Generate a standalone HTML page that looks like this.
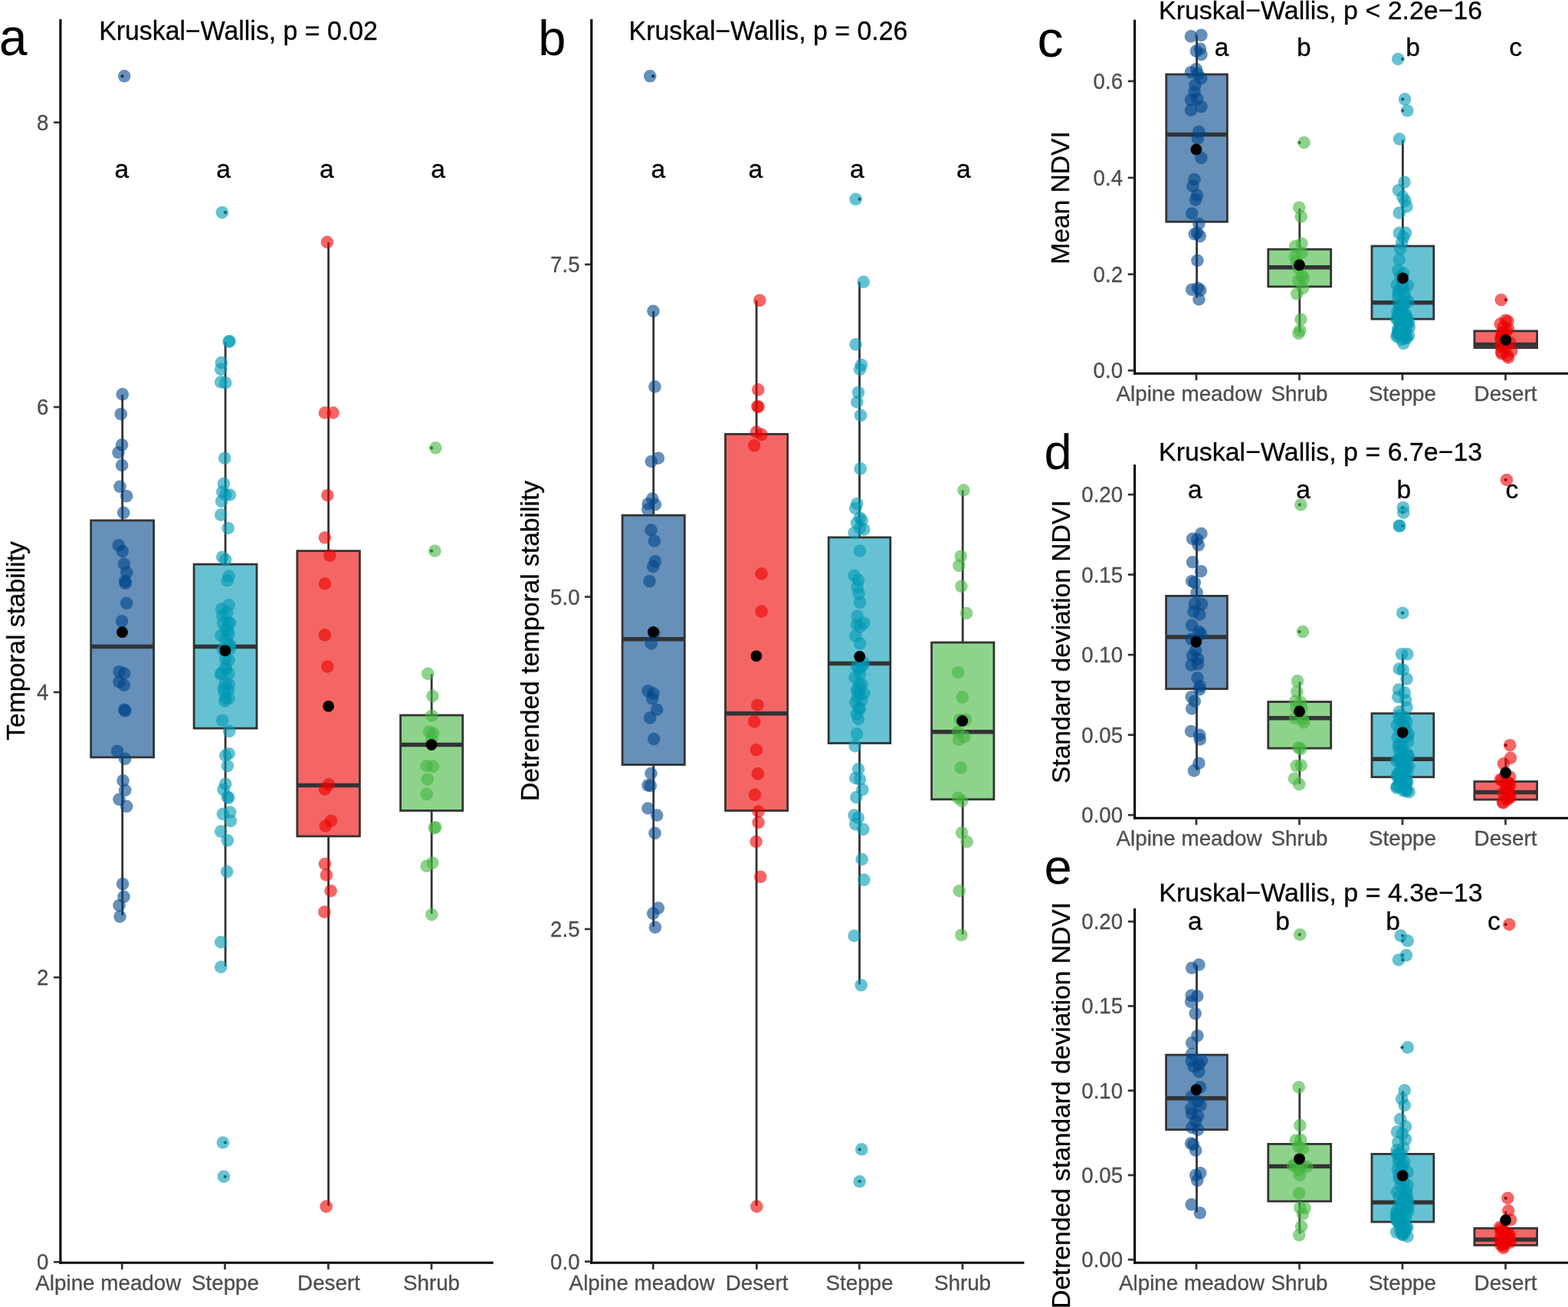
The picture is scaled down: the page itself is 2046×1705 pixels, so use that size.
<!DOCTYPE html>
<html><head><meta charset="utf-8"><title>Figure</title>
<style>
html,body{margin:0;padding:0;background:#fff;}
svg{display:block;font-family:"Liberation Sans", Arial, Helvetica, sans-serif;}
</style></head><body>
<svg width="2046" height="1705" viewBox="0 0 2046 1705">
<rect width="2046" height="1705" fill="#fff"/>
<line x1="78.9" y1="25.0" x2="78.9" y2="1648.8" stroke="#000" stroke-width="3.1" stroke-linecap="butt"/>
<line x1="77.4" y1="1647.3" x2="643.7" y2="1647.3" stroke="#000" stroke-width="3.1" stroke-linecap="butt"/>
<line x1="70.1" y1="159.7" x2="77.9" y2="159.7" stroke="#333" stroke-width="2.7" stroke-linecap="butt"/>
<text x="63.3" y="169.7" font-size="28.84" text-anchor="end" fill="#4D4D4D" stroke="#4D4D4D" stroke-width="0.3" textLength="15.4" lengthAdjust="spacingAndGlyphs">8</text>
<line x1="70.1" y1="531.0" x2="77.9" y2="531.0" stroke="#333" stroke-width="2.7" stroke-linecap="butt"/>
<text x="63.3" y="541.0" font-size="28.84" text-anchor="end" fill="#4D4D4D" stroke="#4D4D4D" stroke-width="0.3" textLength="15.4" lengthAdjust="spacingAndGlyphs">6</text>
<line x1="70.1" y1="903.0" x2="77.9" y2="903.0" stroke="#333" stroke-width="2.7" stroke-linecap="butt"/>
<text x="63.3" y="913.0" font-size="28.84" text-anchor="end" fill="#4D4D4D" stroke="#4D4D4D" stroke-width="0.3" textLength="15.4" lengthAdjust="spacingAndGlyphs">4</text>
<line x1="70.1" y1="1275.0" x2="77.9" y2="1275.0" stroke="#333" stroke-width="2.7" stroke-linecap="butt"/>
<text x="63.3" y="1285.0" font-size="28.84" text-anchor="end" fill="#4D4D4D" stroke="#4D4D4D" stroke-width="0.3" textLength="15.4" lengthAdjust="spacingAndGlyphs">2</text>
<line x1="70.1" y1="1646.3" x2="77.9" y2="1646.3" stroke="#333" stroke-width="2.7" stroke-linecap="butt"/>
<text x="63.3" y="1656.3" font-size="28.84" text-anchor="end" fill="#4D4D4D" stroke="#4D4D4D" stroke-width="0.3" textLength="15.4" lengthAdjust="spacingAndGlyphs">0</text>
<line x1="159.2" y1="1648.3" x2="159.2" y2="1656.1" stroke="#333" stroke-width="2.7" stroke-linecap="butt"/>
<line x1="293.5" y1="1648.3" x2="293.5" y2="1656.1" stroke="#333" stroke-width="2.7" stroke-linecap="butt"/>
<line x1="428.4" y1="1648.3" x2="428.4" y2="1656.1" stroke="#333" stroke-width="2.7" stroke-linecap="butt"/>
<line x1="563.0" y1="1648.3" x2="563.0" y2="1656.1" stroke="#333" stroke-width="2.7" stroke-linecap="butt"/>
<line x1="159.7" y1="515.0" x2="159.7" y2="678.9" stroke="#333" stroke-width="2.8" stroke-linecap="butt"/>
<line x1="159.7" y1="987.9" x2="159.7" y2="1194.0" stroke="#333" stroke-width="2.8" stroke-linecap="butt"/>
<rect x="118.7" y="678.9" width="81.9" height="309.0" fill="#00468B" fill-opacity="0.6" stroke="#333" stroke-width="2.8"/>
<line x1="118.7" y1="843.4" x2="200.6" y2="843.4" stroke="#333" stroke-width="5.5" stroke-linecap="butt"/>
<circle cx="159.5" cy="99.3" r="2.1" fill="#222"/>
<line x1="294.1" y1="446.3" x2="294.1" y2="736.1" stroke="#333" stroke-width="2.8" stroke-linecap="butt"/>
<line x1="294.1" y1="950.1" x2="294.1" y2="1260.8" stroke="#333" stroke-width="2.8" stroke-linecap="butt"/>
<rect x="253.1" y="736.1" width="81.9" height="214.0" fill="#0099B4" fill-opacity="0.6" stroke="#333" stroke-width="2.8"/>
<line x1="253.1" y1="843.4" x2="335.0" y2="843.4" stroke="#333" stroke-width="5.5" stroke-linecap="butt"/>
<circle cx="293.9" cy="277.2" r="2.1" fill="#222"/>
<circle cx="293.9" cy="1490.5" r="2.1" fill="#222"/>
<circle cx="293.9" cy="1535.0" r="2.1" fill="#222"/>
<line x1="428.6" y1="316.0" x2="428.6" y2="718.7" stroke="#333" stroke-width="2.8" stroke-linecap="butt"/>
<line x1="428.6" y1="1090.9" x2="428.6" y2="1572.9" stroke="#333" stroke-width="2.8" stroke-linecap="butt"/>
<rect x="387.8" y="718.7" width="81.6" height="372.2" fill="#ED0000" fill-opacity="0.6" stroke="#333" stroke-width="2.8"/>
<line x1="387.8" y1="1024.4" x2="469.4" y2="1024.4" stroke="#333" stroke-width="5.5" stroke-linecap="butt"/>
<line x1="563.2" y1="879.5" x2="563.2" y2="933.0" stroke="#333" stroke-width="2.8" stroke-linecap="butt"/>
<line x1="563.2" y1="1057.5" x2="563.2" y2="1192.2" stroke="#333" stroke-width="2.8" stroke-linecap="butt"/>
<rect x="522.6" y="933.0" width="81.2" height="124.5" fill="#42B540" fill-opacity="0.6" stroke="#333" stroke-width="2.8"/>
<line x1="522.6" y1="971.5" x2="603.8" y2="971.5" stroke="#333" stroke-width="5.5" stroke-linecap="butt"/>
<circle cx="563.0" cy="584.3" r="2.1" fill="#222"/>
<circle cx="563.0" cy="718.7" r="2.1" fill="#222"/>
<g fill="#00468B" fill-opacity="0.6">
<circle cx="162.2" cy="99.3" r="8.3"/>
<circle cx="159.8" cy="514.4" r="8.3"/>
<circle cx="157.8" cy="540.2" r="8.3"/>
<circle cx="159.1" cy="580.3" r="8.3"/>
<circle cx="154.5" cy="590.3" r="8.3"/>
<circle cx="159.1" cy="607.0" r="8.3"/>
<circle cx="156.5" cy="634.8" r="8.3"/>
<circle cx="165.2" cy="647.2" r="8.3"/>
<circle cx="161.2" cy="668.9" r="8.3"/>
<circle cx="154.8" cy="711.4" r="8.3"/>
<circle cx="159.8" cy="719.1" r="8.3"/>
<circle cx="161.8" cy="735.8" r="8.3"/>
<circle cx="165.2" cy="746.8" r="8.3"/>
<circle cx="163.2" cy="758.2" r="8.3"/>
<circle cx="163.8" cy="760.8" r="8.3"/>
<circle cx="165.2" cy="786.9" r="8.3"/>
<circle cx="159.1" cy="810.3" r="8.3"/>
<circle cx="155.5" cy="876.2" r="8.3"/>
<circle cx="162.2" cy="878.5" r="8.3"/>
<circle cx="155.5" cy="889.6" r="8.3"/>
<circle cx="161.8" cy="893.9" r="8.3"/>
<circle cx="162.2" cy="925.7" r="8.3"/>
<circle cx="163.5" cy="927.3" r="8.3"/>
<circle cx="153.1" cy="979.8" r="8.3"/>
<circle cx="163.2" cy="989.9" r="8.3"/>
<circle cx="160.5" cy="1018.4" r="8.3"/>
<circle cx="163.2" cy="1030.8" r="8.3"/>
<circle cx="155.5" cy="1042.8" r="8.3"/>
<circle cx="165.2" cy="1051.8" r="8.3"/>
<circle cx="160.1" cy="1153.1" r="8.3"/>
<circle cx="161.5" cy="1169.8" r="8.3"/>
<circle cx="155.5" cy="1181.2" r="8.3"/>
<circle cx="156.5" cy="1195.6" r="8.3"/>
</g>
<g fill="#0099B4" fill-opacity="0.6">
<circle cx="289.9" cy="277.2" r="8.3"/>
<circle cx="299.6" cy="445.0" r="8.3"/>
<circle cx="298.6" cy="445.7" r="8.3"/>
<circle cx="288.9" cy="473.1" r="8.3"/>
<circle cx="288.2" cy="481.7" r="8.3"/>
<circle cx="288.2" cy="498.4" r="8.3"/>
<circle cx="294.2" cy="499.4" r="8.3"/>
<circle cx="293.2" cy="597.7" r="8.3"/>
<circle cx="291.9" cy="631.1" r="8.3"/>
<circle cx="290.2" cy="641.5" r="8.3"/>
<circle cx="294.2" cy="645.5" r="8.3"/>
<circle cx="299.9" cy="645.5" r="8.3"/>
<circle cx="289.2" cy="653.9" r="8.3"/>
<circle cx="288.2" cy="671.6" r="8.3"/>
<circle cx="297.6" cy="689.0" r="8.3"/>
<circle cx="290.2" cy="726.7" r="8.3"/>
<circle cx="294.2" cy="730.1" r="8.3"/>
<circle cx="298.6" cy="751.5" r="8.3"/>
<circle cx="296.6" cy="757.5" r="8.3"/>
<circle cx="298.6" cy="789.3" r="8.3"/>
<circle cx="289.2" cy="794.3" r="8.3"/>
<circle cx="290.2" cy="802.6" r="8.3"/>
<circle cx="290.9" cy="812.7" r="8.3"/>
<circle cx="299.9" cy="812.7" r="8.3"/>
<circle cx="294.2" cy="821.0" r="8.3"/>
<circle cx="298.6" cy="827.7" r="8.3"/>
<circle cx="294.2" cy="834.4" r="8.3"/>
<circle cx="298.6" cy="841.1" r="8.3"/>
<circle cx="290.9" cy="847.8" r="8.3"/>
<circle cx="298.6" cy="861.1" r="8.3"/>
<circle cx="294.2" cy="869.5" r="8.3"/>
<circle cx="289.2" cy="877.9" r="8.3"/>
<circle cx="298.6" cy="878.5" r="8.3"/>
<circle cx="294.2" cy="891.2" r="8.3"/>
<circle cx="298.6" cy="892.9" r="8.3"/>
<circle cx="292.5" cy="902.9" r="8.3"/>
<circle cx="294.2" cy="911.3" r="8.3"/>
<circle cx="293.5" cy="914.6" r="8.3"/>
<circle cx="290.2" cy="939.7" r="8.3"/>
<circle cx="299.2" cy="953.8" r="8.3"/>
<circle cx="298.6" cy="983.2" r="8.3"/>
<circle cx="294.2" cy="985.5" r="8.3"/>
<circle cx="296.9" cy="999.2" r="8.3"/>
<circle cx="294.2" cy="1022.7" r="8.3"/>
<circle cx="291.5" cy="1030.1" r="8.3"/>
<circle cx="296.9" cy="1039.5" r="8.3"/>
<circle cx="298.2" cy="1040.8" r="8.3"/>
<circle cx="300.2" cy="1059.5" r="8.3"/>
<circle cx="290.9" cy="1061.9" r="8.3"/>
<circle cx="300.9" cy="1070.9" r="8.3"/>
<circle cx="288.2" cy="1084.6" r="8.3"/>
<circle cx="296.9" cy="1096.3" r="8.3"/>
<circle cx="296.2" cy="1137.1" r="8.3"/>
<circle cx="288.2" cy="1229.0" r="8.3"/>
<circle cx="288.2" cy="1261.5" r="8.3"/>
<circle cx="290.9" cy="1490.5" r="8.3"/>
<circle cx="291.9" cy="1534.9" r="8.3"/>
<circle cx="296.1" cy="799.9" r="8.3"/>
<circle cx="298.3" cy="812.7" r="8.3"/>
<circle cx="297.6" cy="823.2" r="8.3"/>
<circle cx="288.4" cy="829.0" r="8.3"/>
<circle cx="300.3" cy="841.6" r="8.3"/>
<circle cx="299.7" cy="846.5" r="8.3"/>
<circle cx="294.1" cy="858.6" r="8.3"/>
<circle cx="295.1" cy="872.8" r="8.3"/>
<circle cx="288.2" cy="879.6" r="8.3"/>
<circle cx="291.6" cy="897.8" r="8.3"/>
<circle cx="298.0" cy="900.4" r="8.3"/>
<circle cx="298.4" cy="910.8" r="8.3"/>
</g>
<g fill="#ED0000" fill-opacity="0.6">
<circle cx="426.9" cy="315.9" r="8.3"/>
<circle cx="423.9" cy="538.5" r="8.3"/>
<circle cx="434.6" cy="538.5" r="8.3"/>
<circle cx="427.3" cy="646.2" r="8.3"/>
<circle cx="423.9" cy="701.3" r="8.3"/>
<circle cx="430.3" cy="724.7" r="8.3"/>
<circle cx="423.9" cy="761.5" r="8.3"/>
<circle cx="423.9" cy="828.4" r="8.3"/>
<circle cx="427.3" cy="869.5" r="8.3"/>
<circle cx="429.0" cy="1023.4" r="8.3"/>
<circle cx="423.9" cy="1029.4" r="8.3"/>
<circle cx="432.0" cy="1070.9" r="8.3"/>
<circle cx="424.6" cy="1077.6" r="8.3"/>
<circle cx="423.9" cy="1127.0" r="8.3"/>
<circle cx="425.9" cy="1141.4" r="8.3"/>
<circle cx="431.6" cy="1162.2" r="8.3"/>
<circle cx="423.3" cy="1189.6" r="8.3"/>
<circle cx="425.7" cy="1573.9" r="8.3"/>
</g>
<g fill="#42B540" fill-opacity="0.6">
<circle cx="568.4" cy="584.3" r="8.3"/>
<circle cx="567.4" cy="718.7" r="8.3"/>
<circle cx="558.3" cy="878.9" r="8.3"/>
<circle cx="564.4" cy="908.0" r="8.3"/>
<circle cx="563.4" cy="933.7" r="8.3"/>
<circle cx="560.0" cy="954.8" r="8.3"/>
<circle cx="565.0" cy="956.4" r="8.3"/>
<circle cx="563.4" cy="964.8" r="8.3"/>
<circle cx="556.7" cy="999.2" r="8.3"/>
<circle cx="565.0" cy="999.9" r="8.3"/>
<circle cx="557.7" cy="1016.7" r="8.3"/>
<circle cx="556.7" cy="1036.1" r="8.3"/>
<circle cx="568.4" cy="1079.2" r="8.3"/>
<circle cx="566.7" cy="1080.2" r="8.3"/>
<circle cx="564.4" cy="1125.7" r="8.3"/>
<circle cx="556.7" cy="1129.7" r="8.3"/>
<circle cx="563.4" cy="1193.2" r="8.3"/>
</g>
<circle cx="159.5" cy="824.7" r="7.4" fill="#000"/>
<circle cx="293.9" cy="848.8" r="7.4" fill="#000"/>
<circle cx="428.6" cy="921.3" r="7.4" fill="#000"/>
<circle cx="563.0" cy="971.5" r="7.4" fill="#000"/>
<text x="-1.2" y="72.2" font-size="67.98" text-anchor="start" fill="#000" textLength="36.7" lengthAdjust="spacingAndGlyphs">a</text>
<text x="129.2" y="51.9" font-size="34.19" text-anchor="start" fill="#000" stroke="#000" stroke-width="0.3" textLength="363.7" lengthAdjust="spacingAndGlyphs">Kruskal−Wallis, p = 0.02</text>
<text x="158.8" y="232.2" font-size="33.60" text-anchor="middle" fill="#000" stroke="#000" stroke-width="0.3">a</text>
<text x="291.5" y="232.2" font-size="33.60" text-anchor="middle" fill="#000" stroke="#000" stroke-width="0.3">a</text>
<text x="426.3" y="232.2" font-size="33.60" text-anchor="middle" fill="#000" stroke="#000" stroke-width="0.3">a</text>
<text x="571.7" y="232.2" font-size="33.60" text-anchor="middle" fill="#000" stroke="#000" stroke-width="0.3">a</text>
<text x="32.0" y="836.0" font-size="33.60" text-anchor="middle" fill="#000" stroke="#000" stroke-width="0.3" transform="rotate(-90 32.0 836.0)">Temporal stability</text>
<text x="46.3" y="1682.5" font-size="27.80" text-anchor="start" fill="#4D4D4D" stroke="#4D4D4D" stroke-width="0.3">Alpine meadow</text>
<text x="294.0" y="1682.5" font-size="27.80" text-anchor="middle" fill="#4D4D4D" stroke="#4D4D4D" stroke-width="0.3">Steppe</text>
<text x="429.0" y="1682.5" font-size="27.80" text-anchor="middle" fill="#4D4D4D" stroke="#4D4D4D" stroke-width="0.3">Desert</text>
<text x="563.0" y="1682.5" font-size="27.80" text-anchor="middle" fill="#4D4D4D" stroke="#4D4D4D" stroke-width="0.3">Shrub</text>
<line x1="771.8" y1="25.0" x2="771.8" y2="1648.8" stroke="#000" stroke-width="3.1" stroke-linecap="butt"/>
<line x1="770.2" y1="1647.3" x2="1336.4" y2="1647.3" stroke="#000" stroke-width="3.1" stroke-linecap="butt"/>
<line x1="763.0" y1="345.0" x2="770.8" y2="345.0" stroke="#333" stroke-width="2.7" stroke-linecap="butt"/>
<text x="756.5" y="355.0" font-size="28.84" text-anchor="end" fill="#4D4D4D" stroke="#4D4D4D" stroke-width="0.3" textLength="38.4" lengthAdjust="spacingAndGlyphs">7.5</text>
<line x1="763.0" y1="778.6" x2="770.8" y2="778.6" stroke="#333" stroke-width="2.7" stroke-linecap="butt"/>
<text x="756.5" y="788.6" font-size="28.84" text-anchor="end" fill="#4D4D4D" stroke="#4D4D4D" stroke-width="0.3" textLength="38.4" lengthAdjust="spacingAndGlyphs">5.0</text>
<line x1="763.0" y1="1212.0" x2="770.8" y2="1212.0" stroke="#333" stroke-width="2.7" stroke-linecap="butt"/>
<text x="756.5" y="1222.0" font-size="28.84" text-anchor="end" fill="#4D4D4D" stroke="#4D4D4D" stroke-width="0.3" textLength="38.4" lengthAdjust="spacingAndGlyphs">2.5</text>
<line x1="763.0" y1="1645.7" x2="770.8" y2="1645.7" stroke="#333" stroke-width="2.7" stroke-linecap="butt"/>
<text x="756.5" y="1655.7" font-size="28.84" text-anchor="end" fill="#4D4D4D" stroke="#4D4D4D" stroke-width="0.3" textLength="38.4" lengthAdjust="spacingAndGlyphs">0.0</text>
<line x1="852.2" y1="1648.3" x2="852.2" y2="1656.1" stroke="#333" stroke-width="2.7" stroke-linecap="butt"/>
<line x1="987.4" y1="1648.3" x2="987.4" y2="1656.1" stroke="#333" stroke-width="2.7" stroke-linecap="butt"/>
<line x1="1121.3" y1="1648.3" x2="1121.3" y2="1656.1" stroke="#333" stroke-width="2.7" stroke-linecap="butt"/>
<line x1="1256.0" y1="1648.3" x2="1256.0" y2="1656.1" stroke="#333" stroke-width="2.7" stroke-linecap="butt"/>
<line x1="852.7" y1="405.9" x2="852.7" y2="672.2" stroke="#333" stroke-width="2.8" stroke-linecap="butt"/>
<line x1="852.7" y1="997.6" x2="852.7" y2="1209.0" stroke="#333" stroke-width="2.8" stroke-linecap="butt"/>
<rect x="812.1" y="672.2" width="81.2" height="325.4" fill="#00468B" fill-opacity="0.6" stroke="#333" stroke-width="2.8"/>
<line x1="812.1" y1="833.7" x2="893.3" y2="833.7" stroke="#333" stroke-width="5.5" stroke-linecap="butt"/>
<circle cx="852.2" cy="99.3" r="2.1" fill="#222"/>
<line x1="987.1" y1="391.8" x2="987.1" y2="566.3" stroke="#333" stroke-width="2.8" stroke-linecap="butt"/>
<line x1="987.1" y1="1057.5" x2="987.1" y2="1572.9" stroke="#333" stroke-width="2.8" stroke-linecap="butt"/>
<rect x="946.5" y="566.3" width="81.2" height="491.2" fill="#ED0000" fill-opacity="0.6" stroke="#333" stroke-width="2.8"/>
<line x1="946.5" y1="930.7" x2="1027.7" y2="930.7" stroke="#333" stroke-width="5.5" stroke-linecap="butt"/>
<line x1="1121.5" y1="367.8" x2="1121.5" y2="701.0" stroke="#333" stroke-width="2.8" stroke-linecap="butt"/>
<line x1="1121.5" y1="969.5" x2="1121.5" y2="1284.2" stroke="#333" stroke-width="2.8" stroke-linecap="butt"/>
<rect x="1081.2" y="701.0" width="80.6" height="268.5" fill="#0099B4" fill-opacity="0.6" stroke="#333" stroke-width="2.8"/>
<line x1="1081.2" y1="865.5" x2="1161.8" y2="865.5" stroke="#333" stroke-width="5.5" stroke-linecap="butt"/>
<circle cx="1121.7" cy="259.8" r="2.1" fill="#222"/>
<circle cx="1121.7" cy="1499.5" r="2.1" fill="#222"/>
<circle cx="1121.7" cy="1541.0" r="2.1" fill="#222"/>
<line x1="1256.2" y1="639.5" x2="1256.2" y2="838.1" stroke="#333" stroke-width="2.8" stroke-linecap="butt"/>
<line x1="1256.2" y1="1042.8" x2="1256.2" y2="1219.0" stroke="#333" stroke-width="2.8" stroke-linecap="butt"/>
<rect x="1215.6" y="838.1" width="81.3" height="204.7" fill="#42B540" fill-opacity="0.6" stroke="#333" stroke-width="2.8"/>
<line x1="1215.6" y1="954.8" x2="1296.9" y2="954.8" stroke="#333" stroke-width="5.5" stroke-linecap="butt"/>
<g fill="#00468B" fill-opacity="0.6">
<circle cx="848.2" cy="99.3" r="8.3"/>
<circle cx="852.5" cy="405.9" r="8.3"/>
<circle cx="854.5" cy="504.4" r="8.3"/>
<circle cx="849.8" cy="602.0" r="8.3"/>
<circle cx="858.9" cy="597.7" r="8.3"/>
<circle cx="851.2" cy="650.5" r="8.3"/>
<circle cx="845.8" cy="657.2" r="8.3"/>
<circle cx="854.9" cy="658.2" r="8.3"/>
<circle cx="845.2" cy="664.6" r="8.3"/>
<circle cx="849.5" cy="691.6" r="8.3"/>
<circle cx="853.9" cy="705.7" r="8.3"/>
<circle cx="854.9" cy="732.4" r="8.3"/>
<circle cx="852.2" cy="739.1" r="8.3"/>
<circle cx="847.5" cy="758.2" r="8.3"/>
<circle cx="849.8" cy="839.4" r="8.3"/>
<circle cx="845.5" cy="901.3" r="8.3"/>
<circle cx="852.5" cy="904.6" r="8.3"/>
<circle cx="851.2" cy="911.3" r="8.3"/>
<circle cx="857.2" cy="925.7" r="8.3"/>
<circle cx="848.2" cy="936.4" r="8.3"/>
<circle cx="853.2" cy="964.1" r="8.3"/>
<circle cx="849.5" cy="1009.0" r="8.3"/>
<circle cx="845.5" cy="1024.4" r="8.3"/>
<circle cx="848.8" cy="1025.1" r="8.3"/>
<circle cx="845.5" cy="1054.5" r="8.3"/>
<circle cx="857.2" cy="1063.5" r="8.3"/>
<circle cx="854.5" cy="1086.9" r="8.3"/>
<circle cx="858.9" cy="1184.6" r="8.3"/>
<circle cx="852.2" cy="1191.6" r="8.3"/>
<circle cx="854.9" cy="1209.6" r="8.3"/>
<circle cx="853.3" cy="826.0" r="8.3"/>
</g>
<g fill="#ED0000" fill-opacity="0.6">
<circle cx="991.3" cy="391.8" r="8.3"/>
<circle cx="989.3" cy="508.4" r="8.3"/>
<circle cx="988.3" cy="530.2" r="8.3"/>
<circle cx="989.6" cy="530.8" r="8.3"/>
<circle cx="986.9" cy="563.6" r="8.3"/>
<circle cx="993.6" cy="566.9" r="8.3"/>
<circle cx="984.2" cy="581.3" r="8.3"/>
<circle cx="993.6" cy="748.5" r="8.3"/>
<circle cx="993.6" cy="797.6" r="8.3"/>
<circle cx="988.3" cy="919.7" r="8.3"/>
<circle cx="984.2" cy="941.4" r="8.3"/>
<circle cx="986.9" cy="978.2" r="8.3"/>
<circle cx="988.9" cy="1009.4" r="8.3"/>
<circle cx="984.9" cy="1036.8" r="8.3"/>
<circle cx="989.6" cy="1058.5" r="8.3"/>
<circle cx="989.6" cy="1072.9" r="8.3"/>
<circle cx="986.6" cy="1098.0" r="8.3"/>
<circle cx="992.3" cy="1143.8" r="8.3"/>
<circle cx="987.4" cy="1573.9" r="8.3"/>
</g>
<g fill="#0099B4" fill-opacity="0.6">
<circle cx="1116.6" cy="259.8" r="8.3"/>
<circle cx="1126.7" cy="367.8" r="8.3"/>
<circle cx="1116.6" cy="449.3" r="8.3"/>
<circle cx="1124.0" cy="476.1" r="8.3"/>
<circle cx="1122.0" cy="481.7" r="8.3"/>
<circle cx="1120.0" cy="511.8" r="8.3"/>
<circle cx="1118.3" cy="524.5" r="8.3"/>
<circle cx="1123.0" cy="541.9" r="8.3"/>
<circle cx="1122.7" cy="611.4" r="8.3"/>
<circle cx="1118.3" cy="657.2" r="8.3"/>
<circle cx="1116.3" cy="663.2" r="8.3"/>
<circle cx="1122.0" cy="675.6" r="8.3"/>
<circle cx="1124.7" cy="678.9" r="8.3"/>
<circle cx="1118.0" cy="682.3" r="8.3"/>
<circle cx="1122.0" cy="689.0" r="8.3"/>
<circle cx="1127.3" cy="690.6" r="8.3"/>
<circle cx="1114.6" cy="695.0" r="8.3"/>
<circle cx="1122.0" cy="718.7" r="8.3"/>
<circle cx="1114.6" cy="750.8" r="8.3"/>
<circle cx="1120.0" cy="756.8" r="8.3"/>
<circle cx="1118.6" cy="765.9" r="8.3"/>
<circle cx="1120.7" cy="774.2" r="8.3"/>
<circle cx="1122.0" cy="785.9" r="8.3"/>
<circle cx="1118.6" cy="803.6" r="8.3"/>
<circle cx="1127.3" cy="812.7" r="8.3"/>
<circle cx="1118.0" cy="815.0" r="8.3"/>
<circle cx="1122.0" cy="817.7" r="8.3"/>
<circle cx="1116.3" cy="829.4" r="8.3"/>
<circle cx="1122.0" cy="839.4" r="8.3"/>
<circle cx="1127.3" cy="864.5" r="8.3"/>
<circle cx="1118.0" cy="869.5" r="8.3"/>
<circle cx="1122.0" cy="879.5" r="8.3"/>
<circle cx="1124.7" cy="892.9" r="8.3"/>
<circle cx="1118.0" cy="899.6" r="8.3"/>
<circle cx="1122.0" cy="904.6" r="8.3"/>
<circle cx="1127.3" cy="904.6" r="8.3"/>
<circle cx="1116.3" cy="916.3" r="8.3"/>
<circle cx="1120.7" cy="924.7" r="8.3"/>
<circle cx="1120.0" cy="938.0" r="8.3"/>
<circle cx="1118.0" cy="957.4" r="8.3"/>
<circle cx="1115.6" cy="973.1" r="8.3"/>
<circle cx="1120.0" cy="1003.3" r="8.3"/>
<circle cx="1116.3" cy="1015.0" r="8.3"/>
<circle cx="1122.0" cy="1016.7" r="8.3"/>
<circle cx="1125.3" cy="1030.1" r="8.3"/>
<circle cx="1117.3" cy="1040.1" r="8.3"/>
<circle cx="1114.6" cy="1063.5" r="8.3"/>
<circle cx="1119.7" cy="1066.9" r="8.3"/>
<circle cx="1116.3" cy="1075.2" r="8.3"/>
<circle cx="1126.3" cy="1081.9" r="8.3"/>
<circle cx="1124.7" cy="1121.0" r="8.3"/>
<circle cx="1127.3" cy="1147.8" r="8.3"/>
<circle cx="1114.6" cy="1220.7" r="8.3"/>
<circle cx="1123.7" cy="1285.2" r="8.3"/>
<circle cx="1124.3" cy="1499.4" r="8.3"/>
<circle cx="1121.7" cy="1541.3" r="8.3"/>
<circle cx="1125.0" cy="868.7" r="8.3"/>
<circle cx="1121.3" cy="872.2" r="8.3"/>
<circle cx="1115.5" cy="883.6" r="8.3"/>
<circle cx="1121.1" cy="892.5" r="8.3"/>
<circle cx="1120.0" cy="900.7" r="8.3"/>
<circle cx="1118.8" cy="909.1" r="8.3"/>
<circle cx="1124.3" cy="914.0" r="8.3"/>
<circle cx="1122.0" cy="924.3" r="8.3"/>
<circle cx="1117.8" cy="931.4" r="8.3"/>
</g>
<g fill="#42B540" fill-opacity="0.6">
<circle cx="1257.4" cy="639.5" r="8.3"/>
<circle cx="1253.7" cy="725.7" r="8.3"/>
<circle cx="1251.4" cy="737.8" r="8.3"/>
<circle cx="1254.4" cy="764.9" r="8.3"/>
<circle cx="1261.1" cy="800.0" r="8.3"/>
<circle cx="1250.0" cy="877.2" r="8.3"/>
<circle cx="1255.7" cy="909.6" r="8.3"/>
<circle cx="1252.4" cy="938.7" r="8.3"/>
<circle cx="1260.1" cy="938.7" r="8.3"/>
<circle cx="1250.0" cy="954.8" r="8.3"/>
<circle cx="1258.4" cy="961.4" r="8.3"/>
<circle cx="1251.0" cy="964.8" r="8.3"/>
<circle cx="1253.7" cy="1001.6" r="8.3"/>
<circle cx="1250.0" cy="1040.8" r="8.3"/>
<circle cx="1255.1" cy="1045.1" r="8.3"/>
<circle cx="1255.1" cy="1086.3" r="8.3"/>
<circle cx="1261.7" cy="1098.0" r="8.3"/>
<circle cx="1251.7" cy="1162.2" r="8.3"/>
<circle cx="1254.4" cy="1219.7" r="8.3"/>
</g>
<circle cx="852.5" cy="824.4" r="7.4" fill="#000"/>
<circle cx="986.9" cy="855.8" r="7.4" fill="#000"/>
<circle cx="1121.7" cy="856.5" r="7.4" fill="#000"/>
<circle cx="1255.7" cy="940.4" r="7.4" fill="#000"/>
<text x="702.3" y="71.8" font-size="65.00" text-anchor="start" fill="#000">b</text>
<text x="820.6" y="51.9" font-size="34.19" text-anchor="start" fill="#000" stroke="#000" stroke-width="0.3" textLength="363.7" lengthAdjust="spacingAndGlyphs">Kruskal−Wallis, p = 0.26</text>
<text x="858.9" y="232.2" font-size="33.60" text-anchor="middle" fill="#000" stroke="#000" stroke-width="0.3">a</text>
<text x="985.9" y="232.2" font-size="33.60" text-anchor="middle" fill="#000" stroke="#000" stroke-width="0.3">a</text>
<text x="1118.3" y="232.2" font-size="33.60" text-anchor="middle" fill="#000" stroke="#000" stroke-width="0.3">a</text>
<text x="1257.4" y="232.2" font-size="33.60" text-anchor="middle" fill="#000" stroke="#000" stroke-width="0.3">a</text>
<text x="703.0" y="836.0" font-size="33.60" text-anchor="middle" fill="#000" stroke="#000" stroke-width="0.3" transform="rotate(-90 703.0 836.0)">Detrended temporal stability</text>
<text x="742.6" y="1682.5" font-size="27.80" text-anchor="start" fill="#4D4D4D" stroke="#4D4D4D" stroke-width="0.3">Alpine meadow</text>
<text x="987.6" y="1682.5" font-size="27.80" text-anchor="middle" fill="#4D4D4D" stroke="#4D4D4D" stroke-width="0.3">Desert</text>
<text x="1121.5" y="1682.5" font-size="27.80" text-anchor="middle" fill="#4D4D4D" stroke="#4D4D4D" stroke-width="0.3">Steppe</text>
<text x="1256.0" y="1682.5" font-size="27.80" text-anchor="middle" fill="#4D4D4D" stroke="#4D4D4D" stroke-width="0.3">Shrub</text>
<line x1="1480.6" y1="25.7" x2="1480.6" y2="488.8" stroke="#000" stroke-width="3.1" stroke-linecap="butt"/>
<line x1="1479.0" y1="487.2" x2="2050.0" y2="487.2" stroke="#000" stroke-width="3.1" stroke-linecap="butt"/>
<line x1="1471.8" y1="105.9" x2="1479.5" y2="105.9" stroke="#333" stroke-width="2.7" stroke-linecap="butt"/>
<text x="1465.0" y="115.9" font-size="28.84" text-anchor="end" fill="#4D4D4D" stroke="#4D4D4D" stroke-width="0.3" textLength="38.4" lengthAdjust="spacingAndGlyphs">0.6</text>
<line x1="1471.8" y1="231.9" x2="1479.5" y2="231.9" stroke="#333" stroke-width="2.7" stroke-linecap="butt"/>
<text x="1465.0" y="241.9" font-size="28.84" text-anchor="end" fill="#4D4D4D" stroke="#4D4D4D" stroke-width="0.3" textLength="38.4" lengthAdjust="spacingAndGlyphs">0.4</text>
<line x1="1471.8" y1="357.8" x2="1479.5" y2="357.8" stroke="#333" stroke-width="2.7" stroke-linecap="butt"/>
<text x="1465.0" y="367.8" font-size="28.84" text-anchor="end" fill="#4D4D4D" stroke="#4D4D4D" stroke-width="0.3" textLength="38.4" lengthAdjust="spacingAndGlyphs">0.2</text>
<line x1="1471.8" y1="483.3" x2="1479.5" y2="483.3" stroke="#333" stroke-width="2.7" stroke-linecap="butt"/>
<text x="1465.0" y="493.3" font-size="28.84" text-anchor="end" fill="#4D4D4D" stroke="#4D4D4D" stroke-width="0.3" textLength="38.4" lengthAdjust="spacingAndGlyphs">0.0</text>
<line x1="1561.0" y1="488.2" x2="1561.0" y2="496.1" stroke="#333" stroke-width="2.7" stroke-linecap="butt"/>
<line x1="1695.5" y1="488.2" x2="1695.5" y2="496.1" stroke="#333" stroke-width="2.7" stroke-linecap="butt"/>
<line x1="1830.0" y1="488.2" x2="1830.0" y2="496.1" stroke="#333" stroke-width="2.7" stroke-linecap="butt"/>
<line x1="1964.5" y1="488.2" x2="1964.5" y2="496.1" stroke="#333" stroke-width="2.7" stroke-linecap="butt"/>
<line x1="1561.6" y1="45.9" x2="1561.6" y2="97.0" stroke="#333" stroke-width="2.8" stroke-linecap="butt"/>
<line x1="1561.6" y1="289.3" x2="1561.6" y2="388.3" stroke="#333" stroke-width="2.8" stroke-linecap="butt"/>
<rect x="1521.8" y="97.0" width="79.6" height="192.3" fill="#00468B" fill-opacity="0.6" stroke="#333" stroke-width="2.8"/>
<line x1="1521.8" y1="175.4" x2="1601.4" y2="175.4" stroke="#333" stroke-width="5.5" stroke-linecap="butt"/>
<line x1="1695.8" y1="272.1" x2="1695.8" y2="325.2" stroke="#333" stroke-width="2.8" stroke-linecap="butt"/>
<line x1="1695.8" y1="373.9" x2="1695.8" y2="434.0" stroke="#333" stroke-width="2.8" stroke-linecap="butt"/>
<rect x="1654.8" y="325.2" width="81.9" height="48.7" fill="#42B540" fill-opacity="0.6" stroke="#333" stroke-width="2.8"/>
<line x1="1654.8" y1="348.8" x2="1736.7" y2="348.8" stroke="#333" stroke-width="5.5" stroke-linecap="butt"/>
<circle cx="1695.5" cy="186.0" r="2.1" fill="#222"/>
<line x1="1830.4" y1="182.2" x2="1830.4" y2="321.0" stroke="#333" stroke-width="2.8" stroke-linecap="butt"/>
<line x1="1830.4" y1="416.2" x2="1830.4" y2="443.6" stroke="#333" stroke-width="2.8" stroke-linecap="butt"/>
<rect x="1790.0" y="321.0" width="80.8" height="95.2" fill="#0099B4" fill-opacity="0.6" stroke="#333" stroke-width="2.8"/>
<line x1="1790.0" y1="394.7" x2="1870.8" y2="394.7" stroke="#333" stroke-width="5.5" stroke-linecap="butt"/>
<circle cx="1830.2" cy="77.0" r="2.1" fill="#222"/>
<circle cx="1830.2" cy="129.4" r="2.1" fill="#222"/>
<circle cx="1830.2" cy="144.3" r="2.1" fill="#222"/>
<line x1="1964.8" y1="420.0" x2="1964.8" y2="431.8" stroke="#333" stroke-width="2.8" stroke-linecap="butt"/>
<line x1="1964.8" y1="453.7" x2="1964.8" y2="462.0" stroke="#333" stroke-width="2.8" stroke-linecap="butt"/>
<rect x="1923.9" y="431.8" width="81.7" height="21.9" fill="#ED0000" fill-opacity="0.6" stroke="#333" stroke-width="2.8"/>
<line x1="1923.9" y1="449.5" x2="2005.6" y2="449.5" stroke="#333" stroke-width="5.5" stroke-linecap="butt"/>
<circle cx="1964.9" cy="391.2" r="2.1" fill="#222"/>
<g fill="#00468B" fill-opacity="0.6">
<circle cx="1554.0" cy="47.4" r="8.3"/>
<circle cx="1567.4" cy="45.9" r="8.3"/>
<circle cx="1565.9" cy="63.7" r="8.3"/>
<circle cx="1560.9" cy="66.6" r="8.3"/>
<circle cx="1567.4" cy="71.1" r="8.3"/>
<circle cx="1554.0" cy="94.2" r="8.3"/>
<circle cx="1560.9" cy="90.3" r="8.3"/>
<circle cx="1562.9" cy="96.3" r="8.3"/>
<circle cx="1567.4" cy="102.2" r="8.3"/>
<circle cx="1559.4" cy="111.1" r="8.3"/>
<circle cx="1558.5" cy="120.0" r="8.3"/>
<circle cx="1554.0" cy="130.3" r="8.3"/>
<circle cx="1562.0" cy="128.9" r="8.3"/>
<circle cx="1567.4" cy="139.2" r="8.3"/>
<circle cx="1554.0" cy="143.7" r="8.3"/>
<circle cx="1564.4" cy="171.8" r="8.3"/>
<circle cx="1562.9" cy="180.7" r="8.3"/>
<circle cx="1567.4" cy="205.9" r="8.3"/>
<circle cx="1558.5" cy="234.0" r="8.3"/>
<circle cx="1556.4" cy="242.9" r="8.3"/>
<circle cx="1562.0" cy="254.7" r="8.3"/>
<circle cx="1560.0" cy="260.7" r="8.3"/>
<circle cx="1555.2" cy="278.5" r="8.3"/>
<circle cx="1564.4" cy="292.0" r="8.3"/>
<circle cx="1558.8" cy="305.3" r="8.3"/>
<circle cx="1565.8" cy="308.1" r="8.3"/>
<circle cx="1562.2" cy="303.9" r="8.3"/>
<circle cx="1562.4" cy="339.9" r="8.3"/>
<circle cx="1555.2" cy="377.8" r="8.3"/>
<circle cx="1563.0" cy="375.9" r="8.3"/>
<circle cx="1566.3" cy="378.6" r="8.3"/>
<circle cx="1564.4" cy="390.5" r="8.3"/>
</g>
<g fill="#42B540" fill-opacity="0.6">
<circle cx="1701.6" cy="186.0" r="8.3"/>
<circle cx="1695.2" cy="270.7" r="8.3"/>
<circle cx="1697.7" cy="282.6" r="8.3"/>
<circle cx="1698.5" cy="317.8" r="8.3"/>
<circle cx="1690.2" cy="321.4" r="8.3"/>
<circle cx="1698.5" cy="330.2" r="8.3"/>
<circle cx="1690.2" cy="334.4" r="8.3"/>
<circle cx="1691.6" cy="341.3" r="8.3"/>
<circle cx="1694.4" cy="349.6" r="8.3"/>
<circle cx="1698.5" cy="359.3" r="8.3"/>
<circle cx="1700.7" cy="362.9" r="8.3"/>
<circle cx="1694.4" cy="366.2" r="8.3"/>
<circle cx="1699.9" cy="375.9" r="8.3"/>
<circle cx="1692.2" cy="383.3" r="8.3"/>
<circle cx="1697.4" cy="416.5" r="8.3"/>
<circle cx="1696.3" cy="431.2" r="8.3"/>
<circle cx="1694.4" cy="434.8" r="8.3"/>
</g>
<g fill="#0099B4" fill-opacity="0.6">
<circle cx="1824.2" cy="77.0" r="8.3"/>
<circle cx="1833.1" cy="129.4" r="8.3"/>
<circle cx="1836.3" cy="144.3" r="8.3"/>
<circle cx="1826.0" cy="181.3" r="8.3"/>
<circle cx="1832.5" cy="237.6" r="8.3"/>
<circle cx="1825.1" cy="248.2" r="8.3"/>
<circle cx="1830.4" cy="257.1" r="8.3"/>
<circle cx="1833.4" cy="262.1" r="8.3"/>
<circle cx="1835.5" cy="269.4" r="8.3"/>
<circle cx="1825.8" cy="277.7" r="8.3"/>
<circle cx="1825.8" cy="303.9" r="8.3"/>
<circle cx="1834.1" cy="303.9" r="8.3"/>
<circle cx="1831.3" cy="309.5" r="8.3"/>
<circle cx="1829.1" cy="316.4" r="8.3"/>
<circle cx="1827.2" cy="324.7" r="8.3"/>
<circle cx="1825.8" cy="338.5" r="8.3"/>
<circle cx="1824.4" cy="352.4" r="8.3"/>
<circle cx="1831.3" cy="356.5" r="8.3"/>
<circle cx="1827.2" cy="360.7" r="8.3"/>
<circle cx="1823.0" cy="371.7" r="8.3"/>
<circle cx="1831.3" cy="447.8" r="8.3"/>
<circle cx="1829.8" cy="369.6" r="8.3"/>
<circle cx="1836.9" cy="372.2" r="8.3"/>
<circle cx="1830.6" cy="375.4" r="8.3"/>
<circle cx="1825.8" cy="378.0" r="8.3"/>
<circle cx="1832.4" cy="381.7" r="8.3"/>
<circle cx="1824.4" cy="383.2" r="8.3"/>
<circle cx="1824.4" cy="387.5" r="8.3"/>
<circle cx="1833.4" cy="388.1" r="8.3"/>
<circle cx="1837.7" cy="393.6" r="8.3"/>
<circle cx="1832.8" cy="395.5" r="8.3"/>
<circle cx="1825.4" cy="396.6" r="8.3"/>
<circle cx="1830.9" cy="399.6" r="8.3"/>
<circle cx="1825.9" cy="403.0" r="8.3"/>
<circle cx="1823.5" cy="406.5" r="8.3"/>
<circle cx="1826.4" cy="408.7" r="8.3"/>
<circle cx="1833.6" cy="409.8" r="8.3"/>
<circle cx="1825.2" cy="410.2" r="8.3"/>
<circle cx="1824.5" cy="411.1" r="8.3"/>
<circle cx="1834.5" cy="412.0" r="8.3"/>
<circle cx="1831.0" cy="413.1" r="8.3"/>
<circle cx="1827.0" cy="414.3" r="8.3"/>
<circle cx="1836.2" cy="415.4" r="8.3"/>
<circle cx="1822.2" cy="416.0" r="8.3"/>
<circle cx="1824.5" cy="417.6" r="8.3"/>
<circle cx="1835.8" cy="418.5" r="8.3"/>
<circle cx="1836.0" cy="419.4" r="8.3"/>
<circle cx="1838.1" cy="420.4" r="8.3"/>
<circle cx="1826.4" cy="421.5" r="8.3"/>
<circle cx="1830.3" cy="422.3" r="8.3"/>
<circle cx="1831.6" cy="423.0" r="8.3"/>
<circle cx="1828.2" cy="424.0" r="8.3"/>
<circle cx="1827.3" cy="424.6" r="8.3"/>
<circle cx="1835.9" cy="426.3" r="8.3"/>
<circle cx="1838.8" cy="427.1" r="8.3"/>
<circle cx="1831.4" cy="428.2" r="8.3"/>
<circle cx="1824.3" cy="429.1" r="8.3"/>
<circle cx="1829.5" cy="429.6" r="8.3"/>
<circle cx="1825.4" cy="430.9" r="8.3"/>
<circle cx="1826.3" cy="431.8" r="8.3"/>
<circle cx="1832.3" cy="432.7" r="8.3"/>
<circle cx="1824.2" cy="433.8" r="8.3"/>
<circle cx="1826.0" cy="434.5" r="8.3"/>
<circle cx="1825.3" cy="435.6" r="8.3"/>
<circle cx="1823.2" cy="436.8" r="8.3"/>
<circle cx="1838.2" cy="437.5" r="8.3"/>
<circle cx="1834.2" cy="439.0" r="8.3"/>
<circle cx="1822.7" cy="439.2" r="8.3"/>
<circle cx="1835.7" cy="440.9" r="8.3"/>
<circle cx="1832.9" cy="441.2" r="8.3"/>
<circle cx="1829.0" cy="442.9" r="8.3"/>
</g>
<g fill="#ED0000" fill-opacity="0.6">
<circle cx="1958.8" cy="391.2" r="8.3"/>
<circle cx="1964.6" cy="417.8" r="8.3"/>
<circle cx="1967.5" cy="419.2" r="8.3"/>
<circle cx="1957.7" cy="422.6" r="8.3"/>
<circle cx="1961.6" cy="426.6" r="8.3"/>
<circle cx="1967.9" cy="428.8" r="8.3"/>
<circle cx="1965.9" cy="431.8" r="8.3"/>
<circle cx="1959.7" cy="434.0" r="8.3"/>
<circle cx="1959.9" cy="438.1" r="8.3"/>
<circle cx="1958.4" cy="440.6" r="8.3"/>
<circle cx="1958.6" cy="443.0" r="8.3"/>
<circle cx="1962.6" cy="445.0" r="8.3"/>
<circle cx="1970.1" cy="446.7" r="8.3"/>
<circle cx="1958.4" cy="452.0" r="8.3"/>
<circle cx="1965.1" cy="452.5" r="8.3"/>
<circle cx="1972.3" cy="457.7" r="8.3"/>
<circle cx="1959.2" cy="459.0" r="8.3"/>
<circle cx="1959.5" cy="461.5" r="8.3"/>
<circle cx="1966.8" cy="463.9" r="8.3"/>
<circle cx="1968.0" cy="466.4" r="8.3"/>
</g>
<circle cx="1560.9" cy="194.9" r="7.4" fill="#000"/>
<circle cx="1695.5" cy="345.7" r="7.4" fill="#000"/>
<circle cx="1830.5" cy="362.8" r="7.4" fill="#000"/>
<circle cx="1964.7" cy="443.4" r="7.4" fill="#000"/>
<text x="1353.5" y="73.7" font-size="65.96" text-anchor="start" fill="#000" textLength="34.0" lengthAdjust="spacingAndGlyphs">c</text>
<text x="1512.0" y="25.2" font-size="33.95" text-anchor="start" fill="#000" stroke="#000" stroke-width="0.3">Kruskal−Wallis, p &lt; 2.2e−16</text>
<text x="1594.0" y="72.6" font-size="33.60" text-anchor="middle" fill="#000" stroke="#000" stroke-width="0.3">a</text>
<text x="1701.3" y="72.6" font-size="33.60" text-anchor="middle" fill="#000" stroke="#000" stroke-width="0.3">b</text>
<text x="1843.7" y="72.6" font-size="33.60" text-anchor="middle" fill="#000" stroke="#000" stroke-width="0.3">b</text>
<text x="1977.6" y="72.6" font-size="33.60" text-anchor="middle" fill="#000" stroke="#000" stroke-width="0.3">c</text>
<text x="1395.2" y="258.0" font-size="33.60" text-anchor="middle" fill="#000" stroke="#000" stroke-width="0.3" transform="rotate(-90 1395.2 258.0)">Mean NDVI</text>
<text x="1456.5" y="523.0" font-size="27.80" text-anchor="start" fill="#4D4D4D" stroke="#4D4D4D" stroke-width="0.3">Alpine meadow</text>
<text x="1695.5" y="523.0" font-size="27.80" text-anchor="middle" fill="#4D4D4D" stroke="#4D4D4D" stroke-width="0.3">Shrub</text>
<text x="1830.0" y="523.0" font-size="27.80" text-anchor="middle" fill="#4D4D4D" stroke="#4D4D4D" stroke-width="0.3">Steppe</text>
<text x="1964.5" y="523.0" font-size="27.80" text-anchor="middle" fill="#4D4D4D" stroke="#4D4D4D" stroke-width="0.3">Desert</text>
<line x1="1480.6" y1="605.9" x2="1480.6" y2="1068.8" stroke="#000" stroke-width="3.1" stroke-linecap="butt"/>
<line x1="1479.0" y1="1067.3" x2="2050.0" y2="1067.3" stroke="#000" stroke-width="3.1" stroke-linecap="butt"/>
<line x1="1471.8" y1="645.2" x2="1479.5" y2="645.2" stroke="#333" stroke-width="2.7" stroke-linecap="butt"/>
<text x="1465.0" y="655.2" font-size="28.84" text-anchor="end" fill="#4D4D4D" stroke="#4D4D4D" stroke-width="0.3" textLength="53.7" lengthAdjust="spacingAndGlyphs">0.20</text>
<line x1="1471.8" y1="749.6" x2="1479.5" y2="749.6" stroke="#333" stroke-width="2.7" stroke-linecap="butt"/>
<text x="1465.0" y="759.6" font-size="28.84" text-anchor="end" fill="#4D4D4D" stroke="#4D4D4D" stroke-width="0.3" textLength="53.7" lengthAdjust="spacingAndGlyphs">0.15</text>
<line x1="1471.8" y1="854.2" x2="1479.5" y2="854.2" stroke="#333" stroke-width="2.7" stroke-linecap="butt"/>
<text x="1465.0" y="864.2" font-size="28.84" text-anchor="end" fill="#4D4D4D" stroke="#4D4D4D" stroke-width="0.3" textLength="53.7" lengthAdjust="spacingAndGlyphs">0.10</text>
<line x1="1471.8" y1="958.7" x2="1479.5" y2="958.7" stroke="#333" stroke-width="2.7" stroke-linecap="butt"/>
<text x="1465.0" y="968.7" font-size="28.84" text-anchor="end" fill="#4D4D4D" stroke="#4D4D4D" stroke-width="0.3" textLength="53.7" lengthAdjust="spacingAndGlyphs">0.05</text>
<line x1="1471.8" y1="1063.2" x2="1479.5" y2="1063.2" stroke="#333" stroke-width="2.7" stroke-linecap="butt"/>
<text x="1465.0" y="1073.2" font-size="28.84" text-anchor="end" fill="#4D4D4D" stroke="#4D4D4D" stroke-width="0.3" textLength="53.7" lengthAdjust="spacingAndGlyphs">0.00</text>
<line x1="1561.0" y1="1068.3" x2="1561.0" y2="1076.1" stroke="#333" stroke-width="2.7" stroke-linecap="butt"/>
<line x1="1695.5" y1="1068.3" x2="1695.5" y2="1076.1" stroke="#333" stroke-width="2.7" stroke-linecap="butt"/>
<line x1="1830.0" y1="1068.3" x2="1830.0" y2="1076.1" stroke="#333" stroke-width="2.7" stroke-linecap="butt"/>
<line x1="1964.5" y1="1068.3" x2="1964.5" y2="1076.1" stroke="#333" stroke-width="2.7" stroke-linecap="butt"/>
<line x1="1561.5" y1="701.0" x2="1561.5" y2="777.4" stroke="#333" stroke-width="2.8" stroke-linecap="butt"/>
<line x1="1561.5" y1="898.6" x2="1561.5" y2="1004.6" stroke="#333" stroke-width="2.8" stroke-linecap="butt"/>
<rect x="1521.6" y="777.4" width="79.8" height="121.2" fill="#00468B" fill-opacity="0.6" stroke="#333" stroke-width="2.8"/>
<line x1="1521.6" y1="831.0" x2="1601.4" y2="831.0" stroke="#333" stroke-width="5.5" stroke-linecap="butt"/>
<line x1="1695.8" y1="889.2" x2="1695.8" y2="915.5" stroke="#333" stroke-width="2.8" stroke-linecap="butt"/>
<line x1="1695.8" y1="976.1" x2="1695.8" y2="1022.6" stroke="#333" stroke-width="2.8" stroke-linecap="butt"/>
<rect x="1654.8" y="915.5" width="81.9" height="60.6" fill="#42B540" fill-opacity="0.6" stroke="#333" stroke-width="2.8"/>
<line x1="1654.8" y1="936.8" x2="1736.7" y2="936.8" stroke="#333" stroke-width="5.5" stroke-linecap="butt"/>
<circle cx="1695.8" cy="658.4" r="2.1" fill="#222"/>
<circle cx="1695.8" cy="824.1" r="2.1" fill="#222"/>
<line x1="1830.4" y1="853.8" x2="1830.4" y2="930.7" stroke="#333" stroke-width="2.8" stroke-linecap="butt"/>
<line x1="1830.4" y1="1013.7" x2="1830.4" y2="1033.6" stroke="#333" stroke-width="2.8" stroke-linecap="butt"/>
<rect x="1790.0" y="930.7" width="80.8" height="83.0" fill="#0099B4" fill-opacity="0.6" stroke="#333" stroke-width="2.8"/>
<line x1="1790.0" y1="990.2" x2="1870.8" y2="990.2" stroke="#333" stroke-width="5.5" stroke-linecap="butt"/>
<circle cx="1830.2" cy="662.2" r="2.1" fill="#222"/>
<circle cx="1830.2" cy="668.6" r="2.1" fill="#222"/>
<circle cx="1830.2" cy="685.8" r="2.1" fill="#222"/>
<circle cx="1830.2" cy="799.7" r="2.1" fill="#222"/>
<line x1="1964.8" y1="989.4" x2="1964.8" y2="1019.5" stroke="#333" stroke-width="2.8" stroke-linecap="butt"/>
<line x1="1964.8" y1="1043.1" x2="1964.8" y2="1048.0" stroke="#333" stroke-width="2.8" stroke-linecap="butt"/>
<rect x="1923.9" y="1019.5" width="81.7" height="23.6" fill="#ED0000" fill-opacity="0.6" stroke="#333" stroke-width="2.8"/>
<line x1="1923.9" y1="1033.4" x2="2005.6" y2="1033.4" stroke="#333" stroke-width="5.5" stroke-linecap="butt"/>
<circle cx="1964.7" cy="626.0" r="2.1" fill="#222"/>
<circle cx="1964.7" cy="972.2" r="2.1" fill="#222"/>
<g fill="#00468B" fill-opacity="0.6">
<circle cx="1567.4" cy="696.0" r="8.3"/>
<circle cx="1556.1" cy="702.9" r="8.3"/>
<circle cx="1562.2" cy="703.7" r="8.3"/>
<circle cx="1563.8" cy="711.2" r="8.3"/>
<circle cx="1556.1" cy="733.3" r="8.3"/>
<circle cx="1567.1" cy="745.2" r="8.3"/>
<circle cx="1555.2" cy="758.2" r="8.3"/>
<circle cx="1558.8" cy="759.9" r="8.3"/>
<circle cx="1561.6" cy="772.9" r="8.3"/>
<circle cx="1558.8" cy="788.1" r="8.3"/>
<circle cx="1568.0" cy="788.1" r="8.3"/>
<circle cx="1557.5" cy="797.8" r="8.3"/>
<circle cx="1565.2" cy="801.4" r="8.3"/>
<circle cx="1555.2" cy="815.8" r="8.3"/>
<circle cx="1564.4" cy="824.1" r="8.3"/>
<circle cx="1567.1" cy="827.4" r="8.3"/>
<circle cx="1554.7" cy="833.7" r="8.3"/>
<circle cx="1560.2" cy="848.3" r="8.3"/>
<circle cx="1556.1" cy="855.2" r="8.3"/>
<circle cx="1563.0" cy="859.4" r="8.3"/>
<circle cx="1554.7" cy="867.7" r="8.3"/>
<circle cx="1563.0" cy="866.3" r="8.3"/>
<circle cx="1562.4" cy="884.3" r="8.3"/>
<circle cx="1565.8" cy="895.3" r="8.3"/>
<circle cx="1565.2" cy="899.5" r="8.3"/>
<circle cx="1554.7" cy="909.2" r="8.3"/>
<circle cx="1558.8" cy="914.7" r="8.3"/>
<circle cx="1555.2" cy="924.4" r="8.3"/>
<circle cx="1554.1" cy="954.0" r="8.3"/>
<circle cx="1565.2" cy="958.9" r="8.3"/>
<circle cx="1565.8" cy="964.5" r="8.3"/>
<circle cx="1564.4" cy="995.7" r="8.3"/>
<circle cx="1558.0" cy="1005.4" r="8.3"/>
</g>
<g fill="#42B540" fill-opacity="0.6">
<circle cx="1697.4" cy="658.4" r="8.3"/>
<circle cx="1699.9" cy="824.1" r="8.3"/>
<circle cx="1693.0" cy="888.4" r="8.3"/>
<circle cx="1692.4" cy="902.2" r="8.3"/>
<circle cx="1690.2" cy="914.7" r="8.3"/>
<circle cx="1697.2" cy="916.1" r="8.3"/>
<circle cx="1691.6" cy="923.0" r="8.3"/>
<circle cx="1698.5" cy="924.4" r="8.3"/>
<circle cx="1690.2" cy="936.8" r="8.3"/>
<circle cx="1699.9" cy="938.2" r="8.3"/>
<circle cx="1701.3" cy="942.4" r="8.3"/>
<circle cx="1694.4" cy="975.5" r="8.3"/>
<circle cx="1697.2" cy="976.9" r="8.3"/>
<circle cx="1691.6" cy="999.1" r="8.3"/>
<circle cx="1697.7" cy="998.5" r="8.3"/>
<circle cx="1688.9" cy="1015.7" r="8.3"/>
<circle cx="1695.2" cy="1023.1" r="8.3"/>
</g>
<g fill="#0099B4" fill-opacity="0.6">
<circle cx="1830.8" cy="662.2" r="8.3"/>
<circle cx="1831.3" cy="668.6" r="8.3"/>
<circle cx="1825.8" cy="685.8" r="8.3"/>
<circle cx="1826.3" cy="686.3" r="8.3"/>
<circle cx="1830.2" cy="799.7" r="8.3"/>
<circle cx="1829.1" cy="853.3" r="8.3"/>
<circle cx="1836.3" cy="853.3" r="8.3"/>
<circle cx="1825.8" cy="872.6" r="8.3"/>
<circle cx="1830.8" cy="873.7" r="8.3"/>
<circle cx="1835.5" cy="885.6" r="8.3"/>
<circle cx="1825.2" cy="899.5" r="8.3"/>
<circle cx="1832.7" cy="903.6" r="8.3"/>
<circle cx="1824.4" cy="909.2" r="8.3"/>
<circle cx="1834.1" cy="913.3" r="8.3"/>
<circle cx="1835.5" cy="923.0" r="8.3"/>
<circle cx="1825.8" cy="928.5" r="8.3"/>
<circle cx="1825.5" cy="933.8" r="8.3"/>
<circle cx="1832.5" cy="935.9" r="8.3"/>
<circle cx="1826.2" cy="939.4" r="8.3"/>
<circle cx="1835.1" cy="941.3" r="8.3"/>
<circle cx="1830.6" cy="943.2" r="8.3"/>
<circle cx="1823.0" cy="946.2" r="8.3"/>
<circle cx="1831.8" cy="948.1" r="8.3"/>
<circle cx="1834.9" cy="951.2" r="8.3"/>
<circle cx="1826.5" cy="953.3" r="8.3"/>
<circle cx="1838.0" cy="957.8" r="8.3"/>
<circle cx="1836.1" cy="960.1" r="8.3"/>
<circle cx="1823.5" cy="962.0" r="8.3"/>
<circle cx="1830.5" cy="964.1" r="8.3"/>
<circle cx="1837.3" cy="967.4" r="8.3"/>
<circle cx="1825.3" cy="971.3" r="8.3"/>
<circle cx="1824.9" cy="974.2" r="8.3"/>
<circle cx="1829.8" cy="975.9" r="8.3"/>
<circle cx="1828.1" cy="978.3" r="8.3"/>
<circle cx="1825.8" cy="979.8" r="8.3"/>
<circle cx="1836.0" cy="983.0" r="8.3"/>
<circle cx="1837.7" cy="986.2" r="8.3"/>
<circle cx="1837.2" cy="986.3" r="8.3"/>
<circle cx="1832.1" cy="988.0" r="8.3"/>
<circle cx="1831.0" cy="988.8" r="8.3"/>
<circle cx="1825.3" cy="990.4" r="8.3"/>
<circle cx="1825.8" cy="991.7" r="8.3"/>
<circle cx="1822.4" cy="992.5" r="8.3"/>
<circle cx="1834.1" cy="994.1" r="8.3"/>
<circle cx="1830.7" cy="995.7" r="8.3"/>
<circle cx="1828.1" cy="996.1" r="8.3"/>
<circle cx="1835.3" cy="998.0" r="8.3"/>
<circle cx="1833.2" cy="999.2" r="8.3"/>
<circle cx="1838.5" cy="1000.1" r="8.3"/>
<circle cx="1834.9" cy="1001.4" r="8.3"/>
<circle cx="1831.7" cy="1003.0" r="8.3"/>
<circle cx="1827.3" cy="1003.5" r="8.3"/>
<circle cx="1830.1" cy="1005.5" r="8.3"/>
<circle cx="1832.0" cy="1006.4" r="8.3"/>
<circle cx="1832.9" cy="1007.3" r="8.3"/>
<circle cx="1825.0" cy="1008.7" r="8.3"/>
<circle cx="1835.9" cy="1009.7" r="8.3"/>
<circle cx="1823.9" cy="1010.8" r="8.3"/>
<circle cx="1822.7" cy="1012.3" r="8.3"/>
<circle cx="1831.7" cy="1014.2" r="8.3"/>
<circle cx="1827.6" cy="1014.9" r="8.3"/>
<circle cx="1826.9" cy="1016.0" r="8.3"/>
<circle cx="1835.2" cy="1017.5" r="8.3"/>
<circle cx="1826.4" cy="1018.2" r="8.3"/>
<circle cx="1835.3" cy="1020.2" r="8.3"/>
<circle cx="1836.1" cy="1020.8" r="8.3"/>
<circle cx="1831.3" cy="1022.9" r="8.3"/>
<circle cx="1832.1" cy="1024.1" r="8.3"/>
<circle cx="1824.8" cy="1025.4" r="8.3"/>
<circle cx="1823.0" cy="1025.9" r="8.3"/>
<circle cx="1822.4" cy="1027.6" r="8.3"/>
<circle cx="1833.7" cy="1029.1" r="8.3"/>
<circle cx="1835.7" cy="1030.3" r="8.3"/>
<circle cx="1831.2" cy="1031.5" r="8.3"/>
<circle cx="1834.7" cy="1032.0" r="8.3"/>
<circle cx="1838.6" cy="1033.2" r="8.3"/>
</g>
<g fill="#ED0000" fill-opacity="0.6">
<circle cx="1966.0" cy="626.0" r="8.3"/>
<circle cx="1970.2" cy="972.2" r="8.3"/>
<circle cx="1971.0" cy="988.8" r="8.3"/>
<circle cx="1961.9" cy="996.3" r="8.3"/>
<circle cx="1970.0" cy="1013.3" r="8.3"/>
<circle cx="1957.8" cy="1017.1" r="8.3"/>
<circle cx="1959.9" cy="1017.4" r="8.3"/>
<circle cx="1966.0" cy="1019.9" r="8.3"/>
<circle cx="1969.1" cy="1021.7" r="8.3"/>
<circle cx="1970.0" cy="1024.0" r="8.3"/>
<circle cx="1965.3" cy="1027.3" r="8.3"/>
<circle cx="1966.4" cy="1029.3" r="8.3"/>
<circle cx="1966.7" cy="1029.6" r="8.3"/>
<circle cx="1969.0" cy="1032.7" r="8.3"/>
<circle cx="1961.5" cy="1034.0" r="8.3"/>
<circle cx="1968.5" cy="1036.8" r="8.3"/>
<circle cx="1969.7" cy="1039.3" r="8.3"/>
<circle cx="1970.0" cy="1040.9" r="8.3"/>
<circle cx="1966.6" cy="1043.1" r="8.3"/>
<circle cx="1960.9" cy="1045.9" r="8.3"/>
<circle cx="1961.6" cy="1047.5" r="8.3"/>
</g>
<circle cx="1560.8" cy="837.3" r="7.4" fill="#000"/>
<circle cx="1695.5" cy="928.0" r="7.4" fill="#000"/>
<circle cx="1830.2" cy="955.6" r="7.4" fill="#000"/>
<circle cx="1964.6" cy="1007.9" r="7.4" fill="#000"/>
<text x="1362.5" y="612.0" font-size="65.00" text-anchor="start" fill="#000">d</text>
<text x="1512.0" y="600.8" font-size="33.95" text-anchor="start" fill="#000" stroke="#000" stroke-width="0.3">Kruskal−Wallis, p = 6.7e−13</text>
<text x="1559.4" y="650.4" font-size="33.60" text-anchor="middle" fill="#000" stroke="#000" stroke-width="0.3">a</text>
<text x="1700.7" y="650.4" font-size="33.60" text-anchor="middle" fill="#000" stroke="#000" stroke-width="0.3">a</text>
<text x="1831.9" y="650.4" font-size="33.60" text-anchor="middle" fill="#000" stroke="#000" stroke-width="0.3">b</text>
<text x="1972.9" y="650.4" font-size="33.60" text-anchor="middle" fill="#000" stroke="#000" stroke-width="0.3">c</text>
<text x="1396.0" y="837.3" font-size="33.60" text-anchor="middle" fill="#000" stroke="#000" stroke-width="0.3" transform="rotate(-90 1396.0 837.3)">Standard deviation NDVI</text>
<text x="1456.5" y="1103.0" font-size="27.80" text-anchor="start" fill="#4D4D4D" stroke="#4D4D4D" stroke-width="0.3">Alpine meadow</text>
<text x="1695.5" y="1103.0" font-size="27.80" text-anchor="middle" fill="#4D4D4D" stroke="#4D4D4D" stroke-width="0.3">Shrub</text>
<text x="1830.0" y="1103.0" font-size="27.80" text-anchor="middle" fill="#4D4D4D" stroke="#4D4D4D" stroke-width="0.3">Steppe</text>
<text x="1964.5" y="1103.0" font-size="27.80" text-anchor="middle" fill="#4D4D4D" stroke="#4D4D4D" stroke-width="0.3">Desert</text>
<line x1="1480.6" y1="1185.0" x2="1480.6" y2="1648.8" stroke="#000" stroke-width="3.1" stroke-linecap="butt"/>
<line x1="1479.0" y1="1647.2" x2="2050.0" y2="1647.2" stroke="#000" stroke-width="3.1" stroke-linecap="butt"/>
<line x1="1471.8" y1="1202.2" x2="1479.5" y2="1202.2" stroke="#333" stroke-width="2.7" stroke-linecap="butt"/>
<text x="1465.0" y="1212.2" font-size="28.84" text-anchor="end" fill="#4D4D4D" stroke="#4D4D4D" stroke-width="0.3" textLength="53.7" lengthAdjust="spacingAndGlyphs">0.20</text>
<line x1="1471.8" y1="1312.4" x2="1479.5" y2="1312.4" stroke="#333" stroke-width="2.7" stroke-linecap="butt"/>
<text x="1465.0" y="1322.4" font-size="28.84" text-anchor="end" fill="#4D4D4D" stroke="#4D4D4D" stroke-width="0.3" textLength="53.7" lengthAdjust="spacingAndGlyphs">0.15</text>
<line x1="1471.8" y1="1422.7" x2="1479.5" y2="1422.7" stroke="#333" stroke-width="2.7" stroke-linecap="butt"/>
<text x="1465.0" y="1432.7" font-size="28.84" text-anchor="end" fill="#4D4D4D" stroke="#4D4D4D" stroke-width="0.3" textLength="53.7" lengthAdjust="spacingAndGlyphs">0.10</text>
<line x1="1471.8" y1="1533.0" x2="1479.5" y2="1533.0" stroke="#333" stroke-width="2.7" stroke-linecap="butt"/>
<text x="1465.0" y="1543.0" font-size="28.84" text-anchor="end" fill="#4D4D4D" stroke="#4D4D4D" stroke-width="0.3" textLength="53.7" lengthAdjust="spacingAndGlyphs">0.05</text>
<line x1="1471.8" y1="1643.2" x2="1479.5" y2="1643.2" stroke="#333" stroke-width="2.7" stroke-linecap="butt"/>
<text x="1465.0" y="1653.2" font-size="28.84" text-anchor="end" fill="#4D4D4D" stroke="#4D4D4D" stroke-width="0.3" textLength="53.7" lengthAdjust="spacingAndGlyphs">0.00</text>
<line x1="1561.0" y1="1648.2" x2="1561.0" y2="1656.0" stroke="#333" stroke-width="2.7" stroke-linecap="butt"/>
<line x1="1695.5" y1="1648.2" x2="1695.5" y2="1656.0" stroke="#333" stroke-width="2.7" stroke-linecap="butt"/>
<line x1="1830.0" y1="1648.2" x2="1830.0" y2="1656.0" stroke="#333" stroke-width="2.7" stroke-linecap="butt"/>
<line x1="1964.5" y1="1648.2" x2="1964.5" y2="1656.0" stroke="#333" stroke-width="2.7" stroke-linecap="butt"/>
<line x1="1561.5" y1="1259.1" x2="1561.5" y2="1376.1" stroke="#333" stroke-width="2.8" stroke-linecap="butt"/>
<line x1="1561.5" y1="1473.6" x2="1561.5" y2="1581.5" stroke="#333" stroke-width="2.8" stroke-linecap="butt"/>
<rect x="1521.6" y="1376.1" width="79.8" height="97.5" fill="#00468B" fill-opacity="0.6" stroke="#333" stroke-width="2.8"/>
<line x1="1521.6" y1="1432.7" x2="1601.4" y2="1432.7" stroke="#333" stroke-width="5.5" stroke-linecap="butt"/>
<line x1="1695.8" y1="1419.7" x2="1695.8" y2="1492.4" stroke="#333" stroke-width="2.8" stroke-linecap="butt"/>
<line x1="1695.8" y1="1567.1" x2="1695.8" y2="1609.2" stroke="#333" stroke-width="2.8" stroke-linecap="butt"/>
<rect x="1654.8" y="1492.4" width="81.9" height="74.7" fill="#42B540" fill-opacity="0.6" stroke="#333" stroke-width="2.8"/>
<line x1="1654.8" y1="1521.5" x2="1736.7" y2="1521.5" stroke="#333" stroke-width="5.5" stroke-linecap="butt"/>
<circle cx="1695.8" cy="1219.2" r="2.1" fill="#222"/>
<line x1="1830.4" y1="1423.3" x2="1830.4" y2="1505.4" stroke="#333" stroke-width="2.8" stroke-linecap="butt"/>
<line x1="1830.4" y1="1594.0" x2="1830.4" y2="1614.7" stroke="#333" stroke-width="2.8" stroke-linecap="butt"/>
<rect x="1790.0" y="1505.4" width="80.8" height="88.6" fill="#0099B4" fill-opacity="0.6" stroke="#333" stroke-width="2.8"/>
<line x1="1790.0" y1="1568.5" x2="1870.8" y2="1568.5" stroke="#333" stroke-width="5.5" stroke-linecap="butt"/>
<circle cx="1830.2" cy="1220.6" r="2.1" fill="#222"/>
<circle cx="1830.2" cy="1227.3" r="2.1" fill="#222"/>
<circle cx="1830.2" cy="1246.0" r="2.1" fill="#222"/>
<circle cx="1830.2" cy="1252.2" r="2.1" fill="#222"/>
<circle cx="1829.7" cy="1366.4" r="2.1" fill="#222"/>
<line x1="1964.8" y1="1580.0" x2="1964.8" y2="1602.3" stroke="#333" stroke-width="2.8" stroke-linecap="butt"/>
<line x1="1964.8" y1="1624.4" x2="1964.8" y2="1630.0" stroke="#333" stroke-width="2.8" stroke-linecap="butt"/>
<rect x="1923.9" y="1602.3" width="81.7" height="22.1" fill="#ED0000" fill-opacity="0.6" stroke="#333" stroke-width="2.8"/>
<line x1="1923.9" y1="1616.9" x2="2005.6" y2="1616.9" stroke="#333" stroke-width="5.5" stroke-linecap="butt"/>
<circle cx="1964.7" cy="1206.0" r="2.1" fill="#222"/>
<circle cx="1964.7" cy="1563.0" r="2.1" fill="#222"/>
<g fill="#00468B" fill-opacity="0.6">
<circle cx="1564.4" cy="1258.5" r="8.3"/>
<circle cx="1555.2" cy="1262.7" r="8.3"/>
<circle cx="1554.7" cy="1298.6" r="8.3"/>
<circle cx="1562.2" cy="1299.5" r="8.3"/>
<circle cx="1554.1" cy="1306.9" r="8.3"/>
<circle cx="1559.7" cy="1322.1" r="8.3"/>
<circle cx="1562.4" cy="1351.2" r="8.3"/>
<circle cx="1555.2" cy="1360.3" r="8.3"/>
<circle cx="1555.2" cy="1374.7" r="8.3"/>
<circle cx="1554.7" cy="1383.6" r="8.3"/>
<circle cx="1568.0" cy="1383.6" r="8.3"/>
<circle cx="1564.4" cy="1388.5" r="8.3"/>
<circle cx="1557.5" cy="1391.3" r="8.3"/>
<circle cx="1564.4" cy="1398.2" r="8.3"/>
<circle cx="1565.8" cy="1418.3" r="8.3"/>
<circle cx="1554.7" cy="1430.7" r="8.3"/>
<circle cx="1563.0" cy="1436.3" r="8.3"/>
<circle cx="1566.3" cy="1441.8" r="8.3"/>
<circle cx="1554.1" cy="1446.0" r="8.3"/>
<circle cx="1555.2" cy="1452.9" r="8.3"/>
<circle cx="1563.0" cy="1455.6" r="8.3"/>
<circle cx="1560.2" cy="1462.6" r="8.3"/>
<circle cx="1555.2" cy="1470.9" r="8.3"/>
<circle cx="1563.0" cy="1473.6" r="8.3"/>
<circle cx="1554.1" cy="1491.6" r="8.3"/>
<circle cx="1556.9" cy="1493.0" r="8.3"/>
<circle cx="1560.2" cy="1500.7" r="8.3"/>
<circle cx="1566.3" cy="1530.3" r="8.3"/>
<circle cx="1560.2" cy="1533.1" r="8.3"/>
<circle cx="1562.2" cy="1540.0" r="8.3"/>
<circle cx="1554.7" cy="1571.3" r="8.3"/>
<circle cx="1565.8" cy="1582.3" r="8.3"/>
</g>
<g fill="#42B540" fill-opacity="0.6">
<circle cx="1696.3" cy="1219.2" r="8.3"/>
<circle cx="1694.7" cy="1418.3" r="8.3"/>
<circle cx="1696.3" cy="1468.1" r="8.3"/>
<circle cx="1690.8" cy="1487.5" r="8.3"/>
<circle cx="1697.2" cy="1486.9" r="8.3"/>
<circle cx="1694.4" cy="1495.8" r="8.3"/>
<circle cx="1699.9" cy="1498.5" r="8.3"/>
<circle cx="1690.2" cy="1519.3" r="8.3"/>
<circle cx="1698.5" cy="1520.7" r="8.3"/>
<circle cx="1694.4" cy="1526.2" r="8.3"/>
<circle cx="1695.8" cy="1533.1" r="8.3"/>
<circle cx="1695.2" cy="1556.6" r="8.3"/>
<circle cx="1696.3" cy="1575.4" r="8.3"/>
<circle cx="1702.7" cy="1576.0" r="8.3"/>
<circle cx="1699.9" cy="1583.7" r="8.3"/>
<circle cx="1698.0" cy="1600.0" r="8.3"/>
<circle cx="1695.2" cy="1611.1" r="8.3"/>
<circle cx="1687.0" cy="1520.5" r="8.3"/>
<circle cx="1705.5" cy="1522.0" r="8.3"/>
</g>
<g fill="#0099B4" fill-opacity="0.6">
<circle cx="1827.7" cy="1220.6" r="8.3"/>
<circle cx="1836.8" cy="1227.3" r="8.3"/>
<circle cx="1834.9" cy="1246.1" r="8.3"/>
<circle cx="1825.0" cy="1252.2" r="8.3"/>
<circle cx="1836.8" cy="1366.4" r="8.3"/>
<circle cx="1832.7" cy="1422.4" r="8.3"/>
<circle cx="1829.1" cy="1433.5" r="8.3"/>
<circle cx="1832.7" cy="1441.8" r="8.3"/>
<circle cx="1827.2" cy="1459.8" r="8.3"/>
<circle cx="1834.1" cy="1469.5" r="8.3"/>
<circle cx="1823.0" cy="1476.4" r="8.3"/>
<circle cx="1829.9" cy="1479.2" r="8.3"/>
<circle cx="1834.1" cy="1486.1" r="8.3"/>
<circle cx="1824.4" cy="1490.2" r="8.3"/>
<circle cx="1831.3" cy="1497.1" r="8.3"/>
<circle cx="1823.0" cy="1505.4" r="8.3"/>
<circle cx="1822.7" cy="1500.3" r="8.3"/>
<circle cx="1828.4" cy="1505.2" r="8.3"/>
<circle cx="1824.6" cy="1506.5" r="8.3"/>
<circle cx="1826.0" cy="1511.6" r="8.3"/>
<circle cx="1824.7" cy="1514.7" r="8.3"/>
<circle cx="1832.4" cy="1515.9" r="8.3"/>
<circle cx="1830.5" cy="1520.0" r="8.3"/>
<circle cx="1828.7" cy="1524.8" r="8.3"/>
<circle cx="1823.9" cy="1524.9" r="8.3"/>
<circle cx="1836.6" cy="1529.1" r="8.3"/>
<circle cx="1825.5" cy="1532.0" r="8.3"/>
<circle cx="1828.0" cy="1537.1" r="8.3"/>
<circle cx="1825.7" cy="1537.9" r="8.3"/>
<circle cx="1831.3" cy="1542.0" r="8.3"/>
<circle cx="1836.8" cy="1546.0" r="8.3"/>
<circle cx="1827.8" cy="1547.1" r="8.3"/>
<circle cx="1835.0" cy="1552.7" r="8.3"/>
<circle cx="1823.0" cy="1555.0" r="8.3"/>
<circle cx="1835.5" cy="1557.8" r="8.3"/>
<circle cx="1825.8" cy="1561.4" r="8.3"/>
<circle cx="1831.2" cy="1562.7" r="8.3"/>
<circle cx="1835.4" cy="1563.5" r="8.3"/>
<circle cx="1832.6" cy="1565.4" r="8.3"/>
<circle cx="1837.0" cy="1565.7" r="8.3"/>
<circle cx="1832.6" cy="1567.4" r="8.3"/>
<circle cx="1830.1" cy="1568.9" r="8.3"/>
<circle cx="1830.5" cy="1569.5" r="8.3"/>
<circle cx="1837.5" cy="1570.9" r="8.3"/>
<circle cx="1826.6" cy="1571.6" r="8.3"/>
<circle cx="1829.9" cy="1572.5" r="8.3"/>
<circle cx="1831.8" cy="1574.4" r="8.3"/>
<circle cx="1828.7" cy="1575.7" r="8.3"/>
<circle cx="1837.3" cy="1576.6" r="8.3"/>
<circle cx="1833.1" cy="1577.2" r="8.3"/>
<circle cx="1822.5" cy="1579.4" r="8.3"/>
<circle cx="1826.3" cy="1579.6" r="8.3"/>
<circle cx="1836.7" cy="1581.4" r="8.3"/>
<circle cx="1823.6" cy="1582.1" r="8.3"/>
<circle cx="1825.6" cy="1583.2" r="8.3"/>
<circle cx="1821.6" cy="1584.6" r="8.3"/>
<circle cx="1826.7" cy="1585.6" r="8.3"/>
<circle cx="1824.7" cy="1586.5" r="8.3"/>
<circle cx="1822.1" cy="1588.5" r="8.3"/>
<circle cx="1834.2" cy="1589.3" r="8.3"/>
<circle cx="1823.6" cy="1590.0" r="8.3"/>
<circle cx="1823.5" cy="1591.3" r="8.3"/>
<circle cx="1822.5" cy="1592.5" r="8.3"/>
<circle cx="1824.9" cy="1593.5" r="8.3"/>
<circle cx="1832.6" cy="1595.0" r="8.3"/>
<circle cx="1829.5" cy="1596.0" r="8.3"/>
<circle cx="1830.7" cy="1597.7" r="8.3"/>
<circle cx="1826.7" cy="1598.0" r="8.3"/>
<circle cx="1829.7" cy="1599.5" r="8.3"/>
<circle cx="1834.8" cy="1600.4" r="8.3"/>
<circle cx="1836.3" cy="1601.4" r="8.3"/>
<circle cx="1830.7" cy="1603.1" r="8.3"/>
<circle cx="1826.9" cy="1604.8" r="8.3"/>
<circle cx="1833.4" cy="1605.1" r="8.3"/>
<circle cx="1829.9" cy="1606.8" r="8.3"/>
<circle cx="1822.1" cy="1607.3" r="8.3"/>
<circle cx="1831.7" cy="1609.2" r="8.3"/>
<circle cx="1829.4" cy="1610.0" r="8.3"/>
<circle cx="1830.1" cy="1611.0" r="8.3"/>
<circle cx="1836.4" cy="1613.0" r="8.3"/>
</g>
<g fill="#ED0000" fill-opacity="0.6">
<circle cx="1969.3" cy="1206.0" r="8.3"/>
<circle cx="1967.4" cy="1563.0" r="8.3"/>
<circle cx="1968.2" cy="1579.3" r="8.3"/>
<circle cx="1971.0" cy="1591.2" r="8.3"/>
<circle cx="1957.2" cy="1600.9" r="8.3"/>
<circle cx="1958.5" cy="1603.3" r="8.3"/>
<circle cx="1961.4" cy="1605.8" r="8.3"/>
<circle cx="1964.0" cy="1607.0" r="8.3"/>
<circle cx="1958.8" cy="1608.2" r="8.3"/>
<circle cx="1968.5" cy="1609.7" r="8.3"/>
<circle cx="1969.8" cy="1611.6" r="8.3"/>
<circle cx="1962.3" cy="1611.8" r="8.3"/>
<circle cx="1967.3" cy="1613.5" r="8.3"/>
<circle cx="1957.6" cy="1615.8" r="8.3"/>
<circle cx="1968.5" cy="1617.5" r="8.3"/>
<circle cx="1969.9" cy="1618.0" r="8.3"/>
<circle cx="1958.6" cy="1619.4" r="8.3"/>
<circle cx="1970.2" cy="1620.8" r="8.3"/>
<circle cx="1959.6" cy="1622.1" r="8.3"/>
<circle cx="1958.1" cy="1623.6" r="8.3"/>
<circle cx="1962.1" cy="1625.3" r="8.3"/>
<circle cx="1961.5" cy="1627.9" r="8.3"/>
</g>
<circle cx="1561.0" cy="1421.6" r="7.4" fill="#000"/>
<circle cx="1695.5" cy="1511.8" r="7.4" fill="#000"/>
<circle cx="1830.2" cy="1533.7" r="7.4" fill="#000"/>
<circle cx="1964.6" cy="1591.7" r="7.4" fill="#000"/>
<text x="1362.5" y="1153.3" font-size="65.00" text-anchor="start" fill="#000">e</text>
<text x="1512.3" y="1176.4" font-size="33.95" text-anchor="start" fill="#000" stroke="#000" stroke-width="0.3">Kruskal−Wallis, p = 4.3e−13</text>
<text x="1559.4" y="1212.7" font-size="33.60" text-anchor="middle" fill="#000" stroke="#000" stroke-width="0.3">a</text>
<text x="1673.6" y="1212.7" font-size="33.60" text-anchor="middle" fill="#000" stroke="#000" stroke-width="0.3">b</text>
<text x="1817.5" y="1212.7" font-size="33.60" text-anchor="middle" fill="#000" stroke="#000" stroke-width="0.3">b</text>
<text x="1949.4" y="1212.7" font-size="33.60" text-anchor="middle" fill="#000" stroke="#000" stroke-width="0.3">c</text>
<text x="1396.0" y="1177.0" font-size="33.60" text-anchor="end" fill="#000" stroke="#000" stroke-width="0.3" transform="rotate(-90 1396.0 1177.0)">Detrended standard deviation NDVI</text>
<text x="1460.0" y="1682.5" font-size="27.80" text-anchor="start" fill="#4D4D4D" stroke="#4D4D4D" stroke-width="0.3">Alpine meadow</text>
<text x="1695.5" y="1682.5" font-size="27.80" text-anchor="middle" fill="#4D4D4D" stroke="#4D4D4D" stroke-width="0.3">Shrub</text>
<text x="1830.0" y="1682.5" font-size="27.80" text-anchor="middle" fill="#4D4D4D" stroke="#4D4D4D" stroke-width="0.3">Steppe</text>
<text x="1964.5" y="1682.5" font-size="27.80" text-anchor="middle" fill="#4D4D4D" stroke="#4D4D4D" stroke-width="0.3">Desert</text>
</svg>
</body></html>
